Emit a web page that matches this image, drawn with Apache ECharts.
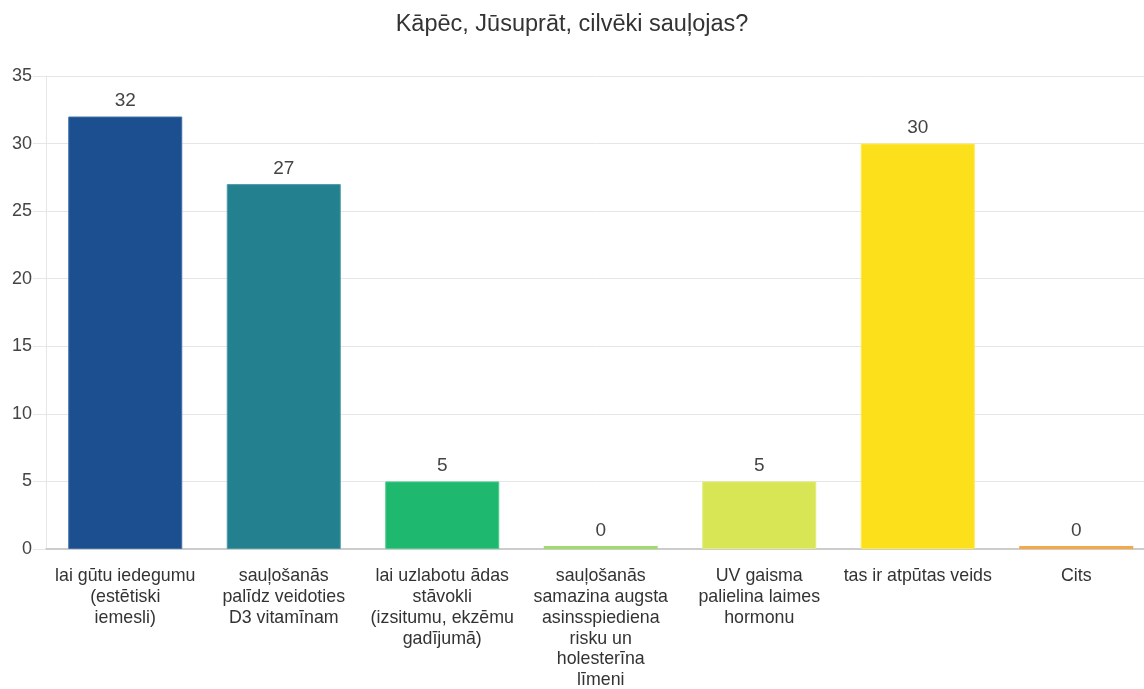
<!DOCTYPE html>
<html><head><meta charset="utf-8">
<script src="https://cdn.jsdelivr.net/npm/echarts@6/dist/echarts.min.js"></script>
<style>html,body{margin:0;padding:0;background:#fff}#c{width:1144px;height:689px}</style>
</head><body><div id="c"></div>
<script>
const title = "Kāpēc, Jūsuprāt, cilvēki sauļojas?";
const categories = [
  "lai gūtu iedegumu\n(estētiski\niemesli)",
  "sauļošanās\npalīdz veidoties\nD3 vitamīnam",
  "lai uzlabotu ādas\nstāvokli\n(izsitumu, ekzēmu\ngadījumā)",
  "sauļošanās\nsamazina augsta\nasinsspiediena\nrisku un\nholesterīna\nlīmeni",
  "UV gaisma\npalielina laimes\nhormonu",
  "tas ir atpūtas veids",
  "Cits"
];
const values = [32, 27, 5, 0, 5, 30, 0];
const colors = ["#1b4f8f", "#23818f", "#1eb96e", "#a0dc6c", "#d8e656", "#fde01c", "#f5a845"];
const borderColors = ["#3f6fa8", "#4a9aa6", "#4ccb8b", "#b5e58a", "#e2ed7a", "#fde84d", "#f7bb6a"];

const chart = echarts.init(document.getElementById('c'), null, {renderer: 'canvas'});
chart.setOption({
  animation: false,
  title: {
    text: title, left: 'center', top: 8,
    textStyle: {fontFamily: 'Liberation Sans, Arial', fontSize: 23.5, fontWeight: 'normal', color: '#333'}
  },
  grid: {left: 46, right: -11.5, top: 76, bottom: 140, containLabel: false, outerBoundsMode: 'none'},
  xAxis: {
    type: 'category', data: categories,
    axisLine: {lineStyle: {color: '#ccc', width: 2}},
    axisTick: {show: false},
    axisLabel: {interval: 0, margin: 17, color: '#333', fontSize: 17.8, lineHeight: 20.8,
      fontFamily: 'Liberation Sans, Arial', align: 'center'}
  },
  yAxis: {
    type: 'value', min: 0, max: 35, interval: 5,
    axisLine: {show: true, lineStyle: {color: '#e6e6e6'}},
    axisTick: {show: true, length: 13, lineStyle: {color: '#e6e6e6'}},
    splitLine: {lineStyle: {color: '#e6e6e6'}},
    axisLabel: {color: '#444', fontSize: 18, margin: 14, fontFamily: 'Liberation Sans, Arial'}
  },
  series: [{
    type: 'bar', barWidth: 114, barMinHeight: 3,
    data: values.map((v, i) => ({value: v, itemStyle: {color: colors[i], borderColor: borderColors[i], borderWidth: v > 0 ? 1 : 0}})),
    label: {show: true, position: 'top', distance: 6, color: '#444', fontSize: 19, fontFamily: 'Liberation Sans, Arial'}
  }]
});
</script></body></html>
